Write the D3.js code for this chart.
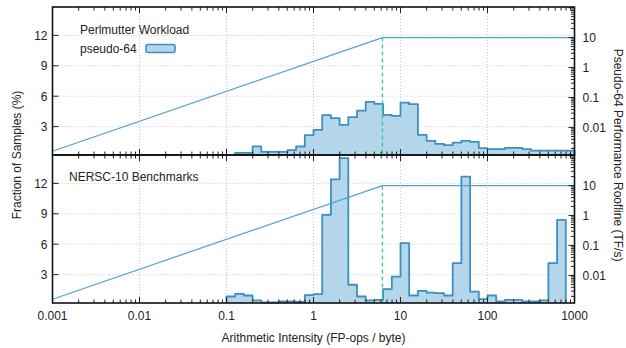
<!DOCTYPE html>
<html>
<head>
<meta charset="utf-8">
<script src="https://cdn.jsdelivr.net/npm/d3@7"></script>
<style>
  body { margin: 0; background: #fff; }
  svg text { font-family: "Liberation Sans", Arial, sans-serif; fill: #222; }
</style>
</head>
<body>
<svg id="chart" width="626" height="348"></svg>
<script>
// histogram bins: log10 bin width 0.1, first bin start exponent
const binWidth = 0.1;
const workloadStart = -0.9;
const workloadPct = [0.4, 0.4, 1.05, 0.5, 0.5, 0.5, 0.68, 1.04, 2.16, 2.68,
  4.13, 3.83, 3.17, 3.93, 4.58, 5.44, 5.24, 4.16, 4.05,
  5.37, 5.21, 2.19, 1.6, 1.3, 1.17, 1.43, 1.6, 1.5, 0.88,
  0.78, 0.78, 0.91, 0.91, 0.78, 0.64, 0.64, 0.64, 0.64, 0.64];
const benchStart = -1.0;
const benchPct = [0.84, 1.1, 0.94, 0.45, 0.25, 0.25, 0.35, 0.35, 0.3, 0.98,
  1.08, 8.89, 12.4, 14.5, 2.0, 0.84, 0.45, 0.51, 1.57, 2.81,
  6.1, 0.94, 1.4, 1.23, 1.17, 0.94, 4.13, 12.66, 1.33, 0.58,
  0.94, 0.35, 0.51, 0.51, 0.35, 0.35, 0.45, 4.13, 8.4];

// roofline (AI in FP-ops/byte, TF/s)
const roofAI = [0.001, 6.2, 1000];
const roofTF = [0.0016, 10, 10];
const ridgeAI = 6.2;

const xTicks = [0.001, 0.01, 0.1, 1, 10, 100, 1000];
const yTicks = [3, 6, 9, 12];
const y2Ticks = [0.01, 0.1, 1, 10];

const panels = [
  { title: "Perlmutter Workload", start: workloadStart, values: workloadPct, top: 7, bottom: 155, legend: true },
  { title: "NERSC-10 Benchmarks", start: benchStart, values: benchPct, top: 155, bottom: 303, legend: false }
];

const left = 52.5, right = 574.5;
const histFill = "#b3d6ea", histStroke = "#3c8fc4", roofColor = "#4ea3d4", ridgeColor = "#3dbf96";

const svg = d3.select("#chart");
const x = d3.scaleLog().domain([0.001, 1000]).range([left, right]);

// minor ticks 2..9 per decade
let minor = [];
for (let e = -3; e < 3; e++) {
  for (let m = 2; m < 10; m++) minor.push(m * Math.pow(10, e));
}

panels.forEach((p, pi) => {
  const y = d3.scaleLinear().domain([0.2, 14.8]).range([p.bottom, p.top]);
  const y2 = d3.scaleLog().domain([0.0012, 105]).range([p.bottom, p.top]);
  const g = svg.append("g");

  // grid
  g.selectAll(".gx").data(xTicks.slice(1, -1)).enter().append("line")
    .attr("x1", d => x(d)).attr("x2", d => x(d))
    .attr("y1", p.top).attr("y2", p.bottom)
    .attr("stroke", "#c8c8c8").attr("stroke-width", 1).attr("stroke-dasharray", "1,2");
  g.selectAll(".gy").data(yTicks).enter().append("line")
    .attr("x1", left).attr("x2", right)
    .attr("y1", d => y(d)).attr("y2", d => y(d))
    .attr("stroke", "#c8c8c8").attr("stroke-width", 1).attr("stroke-dasharray", "1,2");

  // histogram as steps
  const bins = p.values.map((v, i) => ({
    x0: Math.pow(10, p.start + i * binWidth),
    x1: Math.pow(10, p.start + (i + 1) * binWidth),
    v: v
  }));
  const pts = [[bins[0].x0, 0.2]];
  bins.forEach(b => { pts.push([b.x0, b.v]); pts.push([b.x1, b.v]); });
  pts.push([bins[bins.length - 1].x1, 0.2]);
  const line = d3.line().x(d => x(d[0])).y(d => Math.min(y(d[1]), p.bottom));
  g.append("path").datum(pts)
    .attr("d", line)
    .attr("fill", histFill).attr("stroke", "none");
  g.append("path").datum(pts)
    .attr("d", line)
    .attr("fill", "none").attr("stroke", histStroke).attr("stroke-width", 1.8)
    .attr("stroke-linejoin", "round");

  // roofline
  const roof = roofAI.map((a, i) => [a, roofTF[i]]);
  g.append("path").datum(roof)
    .attr("d", d3.line().x(d => x(d[0])).y(d => y2(d[1])))
    .attr("fill", "none").attr("stroke", roofColor).attr("stroke-width", 1.2);
  g.append("line")
    .attr("x1", x(ridgeAI)).attr("x2", x(ridgeAI))
    .attr("y1", y2(roofTF[1])).attr("y2", p.bottom)
    .attr("stroke", ridgeColor).attr("stroke-width", 1.3).attr("stroke-dasharray", "4,3");

  // ticks on x (inward)
  const tickUp = (val, len) => g.append("line")
    .attr("x1", x(val)).attr("x2", x(val))
    .attr("y1", p.bottom).attr("y2", p.bottom - len)
    .attr("stroke", "#222").attr("stroke-width", 1);
  const tickDown = (val, len) => g.append("line")
    .attr("x1", x(val)).attr("x2", x(val))
    .attr("y1", p.top).attr("y2", p.top + len)
    .attr("stroke", "#222").attr("stroke-width", 1);
  xTicks.forEach(t => { tickUp(t, 6); tickDown(t, 6); });
  minor.forEach(t => { tickUp(t, 3.5); tickDown(t, 3.5); });

  // left ticks
  g.selectAll(".ly").data(yTicks).enter().append("line")
    .attr("x1", left).attr("x2", left + 6)
    .attr("y1", d => y(d)).attr("y2", d => y(d))
    .attr("stroke", "#222");
  g.selectAll(".lt").data(yTicks).enter().append("text")
    .attr("x", left - 5).attr("y", d => y(d) + 4.3)
    .attr("text-anchor", "end").attr("font-size", 12)
    .text(d => d);

  // right log ticks
  const y2minor = [];
  for (let e = -3; e < 3; e++) {
    for (let m = 2; m < 10; m++) {
      const v = m * Math.pow(10, e);
      if (v > 0.0012 && v < 105) y2minor.push(v);
    }
  }
  g.selectAll(".ry").data(y2Ticks.concat([100])).enter().append("line")
    .attr("x1", right).attr("x2", right - 6)
    .attr("y1", d => y2(d)).attr("y2", d => y2(d))
    .attr("stroke", "#222");
  g.selectAll(".rym").data(y2minor).enter().append("line")
    .attr("x1", right).attr("x2", right - 3.5)
    .attr("y1", d => y2(d)).attr("y2", d => y2(d))
    .attr("stroke", "#222");
  g.selectAll(".rt").data(y2Ticks).enter().append("text")
    .attr("x", right + 8).attr("y", d => y2(d) + 4.3)
    .attr("font-size", 12)
    .text(d => d);

  // frame
  g.append("rect")
    .attr("x", left).attr("y", p.top)
    .attr("width", right - left).attr("height", p.bottom - p.top)
    .attr("fill", "none").attr("stroke", "#111").attr("stroke-width", 1.6);

  // title
  if (p.legend) {
    g.append("text").attr("x", 80).attr("y", 33.5).attr("font-size", 12).text(p.title);
    g.append("text").attr("x", 80).attr("y", 53).attr("font-size", 12).text("pseudo-64");
    g.append("rect")
      .attr("x", 146).attr("y", 44.5).attr("width", 29).attr("height", 8).attr("rx", 2)
      .attr("fill", histFill).attr("stroke", histStroke).attr("stroke-width", 1.6);
  } else {
    g.append("text").attr("x", 69).attr("y", 180.5).attr("font-size", 12).text(p.title);
  }
});

// x tick labels
svg.selectAll(".xt").data(xTicks).enter().append("text")
  .attr("x", d => x(d)).attr("y", 320)
  .attr("text-anchor", "middle").attr("font-size", 12)
  .text(d => d);

svg.append("text")
  .attr("x", (left + right) / 2).attr("y", 342)
  .attr("text-anchor", "middle").attr("font-size", 12)
  .text("Arithmetic Intensity (FP-ops / byte)");

svg.append("text")
  .attr("transform", "translate(21,155) rotate(-90)")
  .attr("text-anchor", "middle").attr("font-size", 12)
  .text("Fraction of Samples (%)");

svg.append("text")
  .attr("transform", "translate(614,155) rotate(90)")
  .attr("text-anchor", "middle").attr("font-size", 12)
  .text("Pseudo-64 Performance Roofline (TF/s)");
</script>
</body>
</html>
